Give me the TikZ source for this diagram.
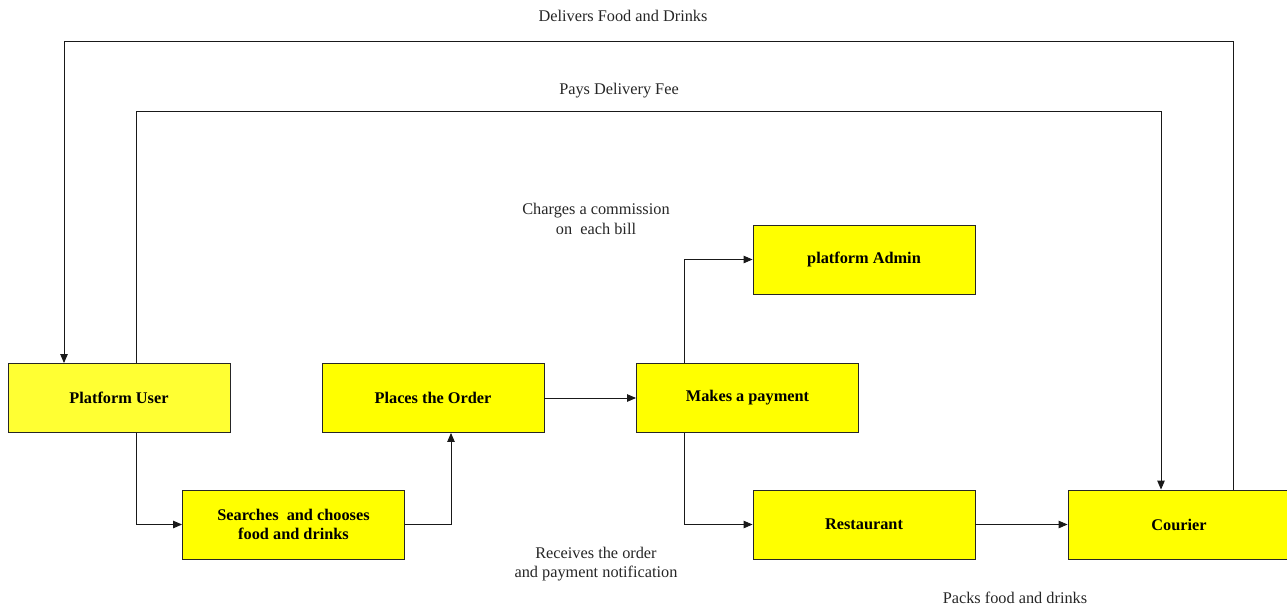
\documentclass[tikz,border=0pt]{standalone}
\usepackage{fontspec}
\setmainfont{Liberation Serif}
\usetikzlibrary{arrows.meta}
\definecolor{boxyel}{RGB}{255,255,0}
\definecolor{useryel}{RGB}{255,255,51}
\begin{document}
\begin{tikzpicture}[x=1pt,y=-1pt,
  box/.style={draw=black!85, line width=0.9pt, fill=boxyel, minimum width=222pt, minimum height=69pt, inner sep=0pt, align=center, font=\fontsize{16.3}{19.5}\selectfont\bfseries},
  conn/.style={draw=black!90, line width=0.9pt, -{Triangle[length=9pt,width=7.5pt]}},
  lbl/.style={align=center, font=\fontsize{16.3}{19.5}\selectfont, text=black!85}]
\useasboundingbox (0,0) rectangle (1287,608);
\node[box, fill=useryel] (user) at (119,398) {Platform User};
\node[box] (search) at (293.5,524.5) {Searches\ \ and chooses\\food and drinks};
\node[box] (order) at (433,398) {Places the Order};
\node[box] (pay) at (747.5,398) {Makes a payment};
\node[box] (admin) at (864,259.5) {platform Admin};
\node[box] (rest) at (864,524.5) {Restaurant};
\node[box] (cour) at (1179,524.5) {Courier};
\coordinate (a1) at (136,524.5);
\coordinate (a2) at (451,524.5);
\coordinate (a3) at (684,259.5);
\coordinate (a4) at (684,524.5);
\draw[conn] (user.south -| a1) -- (a1) -- (search.west);
\draw[conn] (search.east) -- (a2) -- (order.south -| a2);
\draw[conn] (order.east) -- (pay.west);
\draw[conn] (pay.north -| a3) -- (a3) -- (admin.west);
\draw[conn] (pay.south -| a4) -- (a4) -- (rest.west);
\draw[conn] (rest.east) -- (cour.west);
\coordinate (d1) at (1233,41);
\coordinate (d2) at (64,41);
\draw[conn] (cour.north -| d1) -- (d1) -- (d2) -- (user.north -| d2);
\coordinate (p1) at (136,111);
\coordinate (p2) at (1161,111);
\draw[conn] (user.north -| p1) -- (p1) -- (p2) -- (cour.north -| p2);
\node[lbl] (l1) at (623,16) {Delivers Food and Drinks};
\node[lbl] (l2) at (619,91) {Pays Delivery Fee};
\node[lbl] (l3) at (596,219) {Charges a commission\\on\ \ each bill};
\node[lbl] (l4) at (596,564) {Receives the order\\and payment notification};
\node[lbl] (l5) at (1015,598) {Packs food and drinks};
\end{tikzpicture}
\end{document}
